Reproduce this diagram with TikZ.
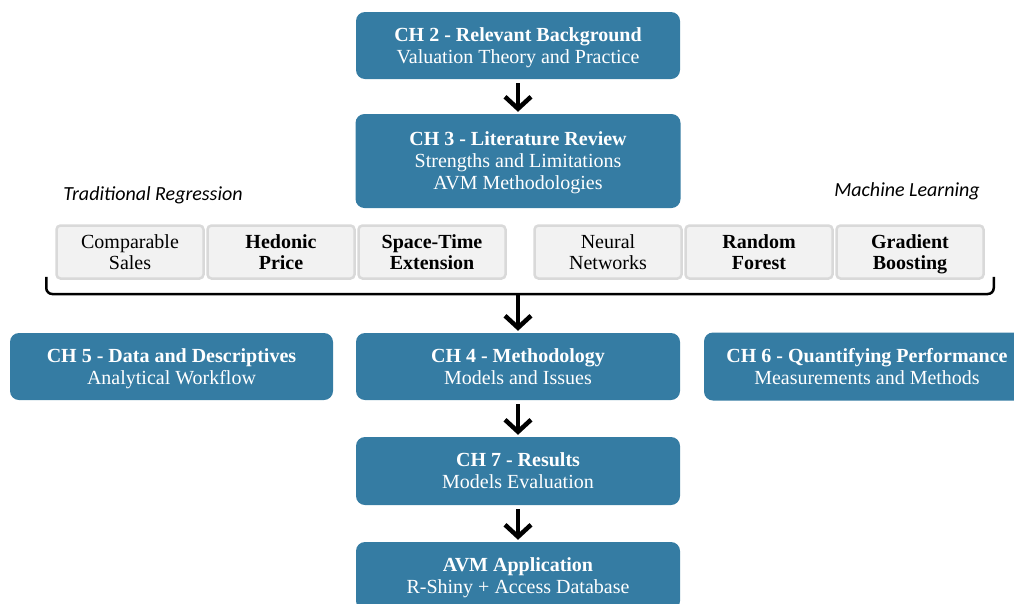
\documentclass[tikz,border=0pt]{standalone}
\usepackage{fontspec}
\setmainfont{Liberation Serif}
\newfontfamily\chfont{Liberation Serif}
\newfontfamily\grpfont{Carlito}
\usepackage{xcolor}
\usepackage{tikz}
\usetikzlibrary{arrows.meta,positioning}
\definecolor{chblue}{HTML}{357CA3}
\definecolor{mfill}{HTML}{F2F2F2}
\definecolor{mline}{HTML}{D9D9D9}

\begin{document}
\begin{tikzpicture}[x=1pt,y=-1pt,on grid,auto]
		\tikzstyle{chap}=[rectangle,rounded corners=9pt,fill=chblue,text=white,align=center,minimum width=324pt,minimum height=67pt,inner sep=0pt,text depth=0pt,font=\chfont\fontsize{20}{22}\selectfont]
		\tikzstyle{meth}=[rectangle,rounded corners=4pt,fill=mfill,draw=mline,line width=2.5pt,align=center,minimum width=147pt,minimum height=53pt,inner sep=0pt,text depth=0pt,font=\chfont\fontsize{20}{21}\selectfont]
		\tikzstyle{grp}=[font=\grpfont\itshape\fontsize{20}{22}\selectfont]
		\tikzstyle{arr}=[-{Straight Barb[length=12pt,width=26pt]},line width=4.5pt,shorten <=4pt,shorten >=2pt]
		
		\useasboundingbox (0,0) rectangle (1014,603);
		
		\node[chap]                    (ch_2) at (518,45.5)       {\textbf{CH 2 - Relevant Background}\\Valuation Theory and Practice};
		\node[chap,minimum width=325pt,minimum height=94pt]
		                               (ch_3) [below=115.5pt of ch_2] {\textbf{CH 3 - Literature Review}\\Strengths and Limitations\\AVM Methodologies};
		\node[chap]                    (ch_4) [below=205.5pt of ch_3] {\textbf{CH 4 - Methodology}\\Models and Issues};
		\node[chap,minimum width=323pt] (ch_5) [left=346.5pt of ch_4]  {\textbf{CH 5 - Data and Descriptives}\\Analytical Workflow};
		\node[chap,minimum width=326pt,minimum height=68pt]
		                               (ch_6) [right=349pt of ch_4]  {\textbf{CH 6 - Quantifying Performance}\\Measurements and Methods};
		\node[chap,minimum height=68pt] (ch_7) [below=104.5pt of ch_4] {\textbf{CH 7 - Results}\\Models Evaluation};
		\node[chap,minimum height=68pt] (avm)  [below=105pt of ch_7]   {\textbf{AVM Application}\\R-Shiny + Access Database};
		
		\node[meth]                    (cmp)  at (130,252)        {Comparable\\Sales};
		\node[meth]                    (hed)  [right=151pt of cmp] {\textbf{Hedonic}\\\textbf{Price}};
		\node[meth]                    (spt)  [right=151pt of hed] {\textbf{Space-Time}\\\textbf{Extension}};
		\node[meth]                    (nn)   at (608,252)        {Neural\\Networks};
		\node[meth]                    (rf)   [right=151pt of nn]  {\textbf{Random}\\\textbf{Forest}};
		\node[meth]                    (gb)   [right=151pt of rf]  {\textbf{Gradient}\\\textbf{Boosting}};
		
		\node[grp]                     (trad) at (153,195)        {Traditional Regression};
		\node[grp]                     (ml)   at (907,191)        {Machine Learning};
		
		\coordinate (brc) at (518,294);
		\draw[line width=2.5pt,rounded corners=6pt]
		([xshift=-9pt,yshift=3pt]cmp.south west) |- (brc) -| ([xshift=9pt,yshift=3pt]gb.south east);
		
		\path[arr]
		(ch_2) edge (ch_3)
		(brc)  edge [shorten <=0pt] (ch_4)
		(ch_4) edge (ch_7)
		(ch_7) edge (avm);
		
\end{tikzpicture}
\end{document}
